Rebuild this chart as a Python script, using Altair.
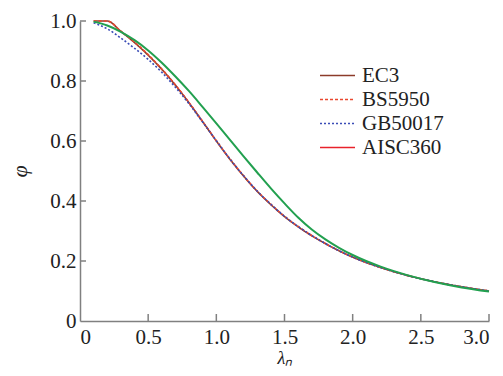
import altair as alt
import pandas as pd

lam = [0.1, 0.2, 0.3, 0.4, 0.5, 0.6, 0.7, 0.8, 0.9, 1.0, 1.1, 1.2, 1.3, 1.4, 1.5,
       1.6, 1.7, 1.8, 1.9, 2.0, 2.2, 2.4, 2.6, 2.8, 3.0]
ec3 = [1.0, 1.0, 0.965, 0.928, 0.886, 0.839, 0.786, 0.727, 0.664, 0.600, 0.539, 0.483,
       0.432, 0.388, 0.348, 0.314, 0.284, 0.258, 0.234, 0.213, 0.179, 0.152, 0.131, 0.114, 0.100]
bs5950 = [1.0, 1.0, 0.966, 0.930, 0.888, 0.840, 0.787, 0.728, 0.665, 0.601, 0.540, 0.484,
          0.433, 0.389, 0.349, 0.315, 0.285, 0.258, 0.234, 0.213, 0.179, 0.152, 0.131, 0.114, 0.100]
gb50017 = [0.994, 0.974, 0.943, 0.909, 0.872, 0.829, 0.779, 0.724, 0.663, 0.601, 0.540, 0.484,
           0.433, 0.389, 0.349, 0.315, 0.285, 0.258, 0.234, 0.213, 0.179, 0.152, 0.131, 0.114, 0.100]
aisc360 = [0.998, 0.985, 0.964, 0.936, 0.902, 0.861, 0.815, 0.766, 0.713, 0.659, 0.604, 0.549,
           0.495, 0.442, 0.392, 0.345, 0.305, 0.272, 0.244, 0.220, 0.182, 0.153, 0.130, 0.112, 0.098]

series_names = ["EC3", "BS5950", "GB50017", "AISC360"]
legend_colors = ["#8c3b2a", "#e9482f", "#3a4cb6", "#e8222b"]
dashes = [[1, 0], [3, 2], [2, 2], [1, 0]]
aisc_line_color = "#22a04f"

x_ticks = [0, 0.5, 1.0, 1.5, 2.0, 2.5, 3.0]
y_ticks = [0, 0.2, 0.4, 0.6, 0.8, 1.0]

rows = []
for name, vals in zip(series_names[:3], [ec3, bs5950, gb50017]):
    for l, v in zip(lam, vals):
        rows.append({"lam": l, "phi": v, "series": name})
df = pd.DataFrame(rows)
aisc_df = pd.DataFrame({"lam": lam, "phi": aisc360})
xt_df = pd.DataFrame({"lam": x_ticks[1:]})
yt_df = pd.DataFrame({"phi": y_ticks[1:]})

FONT = "Liberation Serif"
AXIS_GRAY = "#808080"
label_expr = "datum.value == 0 ? '0' : format(datum.value, '.1f')"

x_scale = alt.Scale(domain=[0, 3], nice=False, zero=False)
y_scale = alt.Scale(domain=[0, 1], nice=False)

x_axis = alt.Axis(values=x_ticks, labelExpr=label_expr, title="λₙ", titleFontStyle="italic",
                  titleFontSize=18, titlePadding=2, labelPadding=5)
y_axis = alt.Axis(values=y_ticks, labelExpr=label_expr, title="φ", titleFontStyle="italic",
                  titleFontSize=22, titlePadding=18, labelPadding=4)

X = alt.X("lam:Q", scale=x_scale, axis=x_axis)
Y = alt.Y("phi:Q", scale=y_scale, axis=y_axis)

lines = alt.Chart(df).mark_line(strokeWidth=1.6, interpolate="monotone").encode(
    x=X, y=Y,
    color=alt.Color("series:N", scale=alt.Scale(domain=series_names, range=legend_colors), title=None),
    strokeDash=alt.StrokeDash("series:N", scale=alt.Scale(domain=series_names, range=dashes), title=None),
)

aisc = alt.Chart(aisc_df).mark_line(strokeWidth=2, color=aisc_line_color, interpolate="monotone").encode(
    x=X, y=Y,
)

xticks = alt.Chart(xt_df).mark_rule(color=AXIS_GRAY, strokeWidth=1.5).encode(
    x=X, y=alt.value(300), y2=alt.value(293),
)
yticks = alt.Chart(yt_df).mark_rule(color=AXIS_GRAY, strokeWidth=1.5).encode(
    y=Y, x=alt.value(0), x2=alt.value(6),
)

chart = alt.layer(lines, aisc, xticks, yticks).properties(
    width=409, height=300,
    autosize=alt.AutoSizeParams(type="none"),
    padding={"left": 72, "top": 13, "right": 5, "bottom": 47},
).configure_view(stroke=None).configure_axis(
    grid=False, tickSize=0, domainColor=AXIS_GRAY, domainWidth=1.5,
    labelFont=FONT, labelFontSize=21, labelColor="#222222",
    titleFont=FONT, titleFontWeight="normal", titleColor="#222222",
).configure_legend(
    orient="none", legendX=247, legendY=44, padding=0,
    labelFont=FONT, labelFontSize=21, labelColor="#222222", labelOffset=14,
    symbolType="M-3,0H3", symbolSize=136, symbolStrokeWidth=1.6, rowPadding=2,
)

chart.save("out.html", embed_options={"renderer": "svg", "actions": False})
